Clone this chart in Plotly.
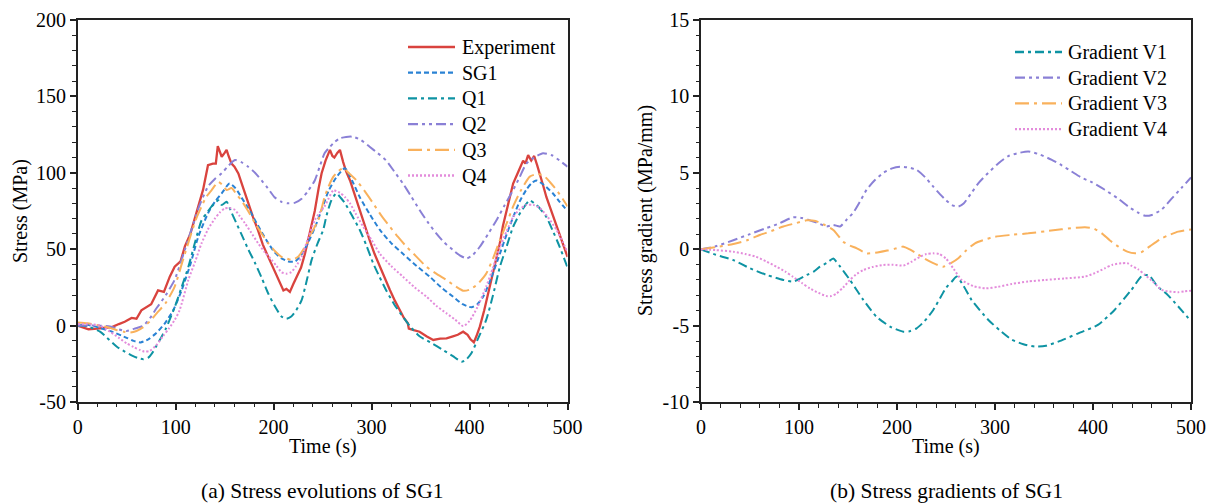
import plotly.graph_objects as go

# ---------------- (a) Stress evolutions of SG1 ----------------
exp_t = [0, 5, 11, 20, 30, 35, 42, 48, 55, 60, 65, 70, 75, 82, 88, 94, 99, 105, 109.5, 115, 120, 124, 128, 133, 138, 141, 143, 145, 147, 150, 152, 154, 157, 160, 164, 169, 174, 179, 184, 189, 194.5, 200, 204.7, 208, 210, 213, 216.6, 220, 223.5, 228, 232, 235, 238.8, 242, 246, 249, 253, 257.5, 260, 262, 265, 267.7, 271, 274, 278, 283, 288, 293, 298, 303, 308.5, 313, 318.7, 324, 329, 333, 337, 338, 343, 349, 356, 363, 370, 376.5, 383, 388, 393.5, 398, 401, 404.4, 407, 410.5, 415, 420.7, 426, 431, 434, 437.8, 441, 444.5, 450, 454.7, 457, 459.8, 463, 466, 469, 471.7, 475, 478.5, 484, 488.8, 494, 500]
exp_v = [0, -1, -2.4, -2, -1.5, -1, 1, 2.5, 5, 4.5, 10, 12, 14, 23, 22, 32, 38.5, 42, 52, 60, 71, 80, 89, 105, 106, 106, 117.5, 114, 110.5, 113, 115, 111, 106, 104, 99.6, 90, 80, 71, 62.5, 53, 45, 37, 30, 25, 23, 24, 22, 27, 32, 38, 47, 55, 64.7, 75, 90, 99.7, 108, 115, 111, 110, 113, 115, 107, 101, 95, 85, 75.7, 66, 56, 47, 38.5, 31, 23.3, 16, 10, 5, 1.5, -2, -3, -4, -7, -9.4, -8.5, -8.3, -7, -6, -4, -6, -9, -11, -7, -0.7, 10, 25.5, 40, 54, 65, 75.7, 84, 93, 101, 108, 106, 111.6, 108, 111, 105, 99.6, 92, 84, 74, 64.7, 55, 45]

sg1_t = [0, 10, 22.8, 35, 50, 57, 64, 72, 80, 89, 97.5, 106, 115, 123, 133, 140, 147, 155, 161, 167, 174, 181, 188, 194.5, 201, 208, 215, 222, 228, 235, 242, 249, 256, 264, 272.8, 280, 288, 298, 308.5, 320, 332, 346, 359.5, 371, 383, 393, 402, 408, 414, 422, 431, 438, 444.5, 451, 458, 463, 468, 476, 485, 492, 500]
sg1_v = [0, 0.5, -1.5, -4, -8, -10, -11, -9, -5, 1.5, 10, 23, 40, 58, 73.5, 81, 86.6, 93, 90, 84, 77, 69, 61, 54, 48, 44, 42, 42, 46, 54, 64, 75.7, 88, 97, 103, 95, 84, 73, 62.6, 54, 47, 39, 32, 25, 19, 14, 12, 14, 19, 31, 47, 60, 71, 81, 89, 93, 95, 92, 86.6, 81, 75]

q1_t = [0, 10, 22.8, 30, 40, 48, 56.6, 63, 67, 72, 76, 80.6, 90, 99, 106, 113, 120, 126.5, 131, 136.7, 140, 143.5, 147, 152, 157, 162, 167, 174, 181, 188, 194.5, 201, 208, 213, 218, 223, 228.6, 234, 238.8, 245, 250.6, 254, 259, 264, 268, 273, 280, 288, 295, 301.6, 308, 315, 323, 332, 340, 349, 360, 373, 383, 392, 397, 402, 409, 417, 424, 431, 438, 444.5, 452, 461.5, 466, 470, 478.5, 485, 492, 500]
q1_v = [0, -0.5, -4, -8, -13.8, -17, -20, -21.5, -22, -21, -18, -13, -2, 12, 25, 38.5, 55, 69, 73, 78, 80, 82, 79, 81, 74, 67, 60, 50, 41, 31, 21, 13, 6, 4.5, 6, 10, 16.7, 30, 43, 54, 62.6, 72, 82, 86.6, 84, 80, 72, 62.6, 52, 40.8, 32, 23, 14, 5.8, -1, -7, -11, -16, -20, -23.6, -22, -18, -8, 3.7, 20, 38.5, 52, 64.7, 74, 82, 80, 78, 71, 62, 51.6, 38]

q2_t = [0, 15, 33, 42, 50, 58, 67, 74, 80.6, 90, 99, 107, 116, 124, 133, 140, 147, 153, 160.5, 167, 174, 181, 187.7, 194, 201, 208, 215, 222, 228.6, 235, 242, 247, 252, 257.5, 262, 267.7, 274, 281, 289, 298, 306, 315, 323, 332, 340, 349, 357, 366, 374, 383, 390, 397, 403, 410.5, 419, 427.5, 436, 444.5, 451, 458, 466, 475, 484, 492, 500]
q2_v = [0, 0, -0.5, -2.5, -3.5, -2, 0, 5, 11.5, 20, 30, 45, 62.6, 78, 91, 96, 99.7, 104, 108.4, 107, 104, 100, 95, 90, 84, 81, 80, 80.5, 83, 88, 95, 104, 112.8, 117, 120, 122.6, 123.5, 123.6, 121.5, 117, 113, 108, 101, 93, 85, 75.7, 68, 60.4, 54.5, 49.5, 46, 44, 46, 51.6, 60, 69, 79, 88.7, 97, 106, 110, 112.8, 111.5, 108, 104]

q3_t = [0, 10, 22.8, 33, 40, 47, 53.5, 60, 67, 74, 80.6, 90, 99, 107, 116, 121, 126.5, 131, 136.7, 143.5, 148, 152, 157, 162, 167, 174, 181, 188, 194.5, 201, 208, 213, 218, 225, 232, 238, 245.6, 252, 256, 261, 266, 271, 278, 284.7, 293, 301.6, 310, 318.7, 327, 335.7, 346, 356, 366, 376.5, 385, 393.5, 400, 408, 417, 424, 431, 438, 444.5, 452, 461.5, 468, 475, 482, 488.8, 495, 500]
q3_v = [2, 1.5, 0, -1.5, -3, -4, -4.6, -3.5, -1, 3, 8, 15, 25.5, 42, 60.4, 70, 78, 84, 88.7, 94, 92, 88.7, 90, 86, 82, 75, 67, 60, 53.8, 49, 45, 44, 43, 45, 51.6, 60, 69, 84, 91, 97.5, 101, 103, 99, 95, 88, 80, 72, 64.7, 58, 51.6, 45, 38.5, 34, 29.8, 26, 22.8, 23.5, 27, 34, 44, 56, 67, 78, 88, 97.5, 99, 98.5, 94, 88.7, 83, 78]

q4_t = [0, 10, 22.8, 33, 42, 50, 57, 63.6, 68, 73.6, 80, 87, 93, 99, 104, 113, 120, 126.5, 133, 140, 145, 150, 155, 160.5, 165, 170.7, 177, 184, 191, 198, 203, 208, 213, 218, 223, 228.6, 235, 242, 247, 252, 256, 261, 264, 267.7, 273, 278, 284, 291.5, 300, 308.5, 320, 332, 344, 356, 366, 376.5, 385, 393.5, 400, 408, 417, 424, 431, 438, 444.5, 451, 458, 465, 471.7, 480, 488.8, 495, 500]
q4_v = [1, 1, 0, -4, -8, -11.6, -14, -16, -17, -16.5, -13, -7, -2, 3.7, 10, 30, 42, 54, 63, 70, 74, 76.7, 77, 75.7, 72, 67, 61, 54, 48, 43, 39, 35, 34, 35, 39, 45, 57, 69, 74, 78, 83, 88.7, 88, 87, 84, 80, 73, 64.7, 56, 47, 39, 32, 25, 19, 13, 8, 4, -0.3, 3, 12, 25.5, 38, 51.6, 62, 71, 76, 79, 79, 77, 71, 62.6, 55, 48]

# ---------------- (b) Stress gradients of SG1 ----------------
v1_t = [0, 15, 33, 50, 67, 84, 94, 100, 108, 115, 121.4, 128, 135, 138, 142, 152, 165.6, 179, 193, 206.5, 213, 220, 228, 237, 250.3, 256, 261, 268, 276, 293, 305, 317, 329, 340.8, 352, 364.6, 385, 405, 422, 439, 451, 458, 466, 475, 483.7, 492, 500]
v1_v = [0, -0.35, -0.7, -1.24, -1.67, -2.0, -2.1, -1.95, -1.67, -1.45, -1.13, -0.9, -0.6, -0.8, -1.13, -2.0, -3.3, -4.4, -5.05, -5.38, -5.35, -5.16, -4.7, -3.96, -2.5, -2.1, -1.78, -2.4, -3.3, -4.6, -5.3, -5.9, -6.2, -6.36, -6.3, -6.03, -5.49, -4.94, -3.96, -2.66, -1.67, -1.75, -2.44, -2.9, -3.5, -4.1, -4.7]

v2_t = [0, 15, 33, 50, 67, 80, 94, 103, 111, 120, 128, 135, 142, 148, 155.4, 162, 169, 177, 186, 195, 203, 212, 220, 229, 237, 244, 250.3, 256, 262.6, 268, 276, 284, 293, 303, 313.6, 324, 334, 346, 358, 368, 378, 388, 398.7, 412, 426, 436, 446, 453, 460, 470, 480, 490, 500]
v2_v = [0, 0.2, 0.6, 1.0, 1.4, 1.7, 2.1, 2.05, 1.9, 1.7, 1.5, 1.6, 1.5, 1.9, 2.4, 3.1, 3.9, 4.5, 5.0, 5.3, 5.4, 5.35, 5.2, 4.7, 4.1, 3.6, 3.2, 2.9, 2.8, 3.0, 3.7, 4.4, 5.0, 5.6, 6.1, 6.3, 6.4, 6.2, 5.85, 5.5, 5.1, 4.7, 4.4, 3.9, 3.3, 2.8, 2.4, 2.2, 2.25, 2.6, 3.3, 4.0, 4.7]

v3_t = [0, 15, 33, 47, 60, 72, 84, 96, 107.8, 117, 126, 135, 140, 145, 152, 159, 169, 180, 190, 198, 206.5, 213, 220, 228, 237, 247, 255, 262.6, 270, 279.6, 290, 300, 317, 334, 351, 368, 380, 391.8, 400, 409, 417, 426, 435, 443, 449, 458, 470, 478, 487, 500]
v3_v = [0, 0.15, 0.35, 0.6, 0.94, 1.2, 1.5, 1.7, 1.9, 1.85, 1.6, 1.27, 0.9, 0.5, 0.25, 0.07, -0.26, -0.2, -0.08, 0.05, 0.18, 0.0, -0.26, -0.6, -0.9, -1.13, -0.9, -0.58, -0.1, 0.4, 0.65, 0.83, 0.95, 1.05, 1.18, 1.31, 1.4, 1.45, 1.38, 1.05, 0.6, 0.18, -0.15, -0.26, -0.2, 0.2, 0.72, 0.95, 1.16, 1.3]

v4_t = [0, 15, 33, 45, 56, 67, 77, 86, 94, 103, 111, 120, 128, 133, 138, 145, 152, 158, 165.6, 175, 186, 196, 206.5, 215, 223.5, 230, 237, 243, 250, 258, 266, 278, 290, 303, 317, 334, 351, 371, 391.8, 402, 412, 420, 429, 435, 439, 446, 453, 461, 470, 478, 487, 493, 500]
v4_v = [0, -0.05, -0.15, -0.3, -0.48, -0.8, -1.13, -1.45, -1.8, -2.2, -2.55, -2.85, -3.05, -3.05, -2.9, -2.5, -2.0, -1.65, -1.35, -1.15, -1.02, -1.0, -1.06, -0.8, -0.48, -0.3, -0.26, -0.3, -0.6, -1.3, -2.0, -2.4, -2.55, -2.45, -2.26, -2.1, -2.0, -1.9, -1.78, -1.55, -1.24, -1.0, -0.91, -0.9, -1.06, -1.3, -1.67, -2.1, -2.65, -2.75, -2.8, -2.75, -2.7]

x_ticks = [0, 100, 200, 300, 400, 500]
x_ticktext = ["0", "100", "200", "300", "400", "500"]
y1_ticks = [-50, 0, 50, 100, 150, 200]
y1_ticktext = ["-50", "0", "50", "100", "150", "200"]
y2_ticks = [-10, -5, 0, 5, 10, 15]
y2_ticktext = ["-10", "-5", "0", "5", "10", "15"]

C_EXP = "#d9433e"
C_SG1 = "#2a82d4"
C_Q1 = "#0e93a3"
C_Q2 = "#8a80d6"
C_Q3 = "#f9b15c"
C_Q4 = "#e38cdb"

D_SG1 = "5px,3px"
D_Q1 = "9px,4px,3px,4px"
D_Q2 = "10px,4px,3px,4px,3px,4px"
D_Q3 = "14px,5px,3px,5px"
D_Q4 = "2px,2px"

FONT = "Liberation Serif"
W, H = 1210, 504


def px_x(p):
    return p / W


def px_y(p):
    return 1 - p / H


fig = go.Figure()


def add(t, v, name, color, dash, xa, ya, width=2.0, shape="linear"):
    fig.add_trace(go.Scatter(
        x=t, y=v, name=name, mode="lines", xaxis=xa, yaxis=ya, showlegend=False,
        line=dict(color=color, width=width, dash=dash, shape=shape,
                  smoothing=0.6 if shape == "spline" else None),
    ))


left = [
    (exp_t, exp_v, "Experiment", C_EXP, "solid", 2.3, "linear"),
    (sg1_t, sg1_v, "SG1", C_SG1, D_SG1, 2.0, "spline"),
    (q1_t, q1_v, "Q1", C_Q1, D_Q1, 2.0, "spline"),
    (q2_t, q2_v, "Q2", C_Q2, D_Q2, 2.0, "spline"),
    (q3_t, q3_v, "Q3", C_Q3, D_Q3, 2.0, "spline"),
    (q4_t, q4_v, "Q4", C_Q4, D_Q4, 2.0, "spline"),
]
right = [
    (v1_t, v1_v, "Gradient V1", C_Q1, D_Q1, 2.0, "spline"),
    (v2_t, v2_v, "Gradient V2", C_Q2, D_Q2, 2.0, "spline"),
    (v3_t, v3_v, "Gradient V3", C_Q3, D_Q3, 2.0, "spline"),
    (v4_t, v4_v, "Gradient V4", C_Q4, D_Q4, 2.0, "spline"),
]
for t, v, n, c, d, w, s in left:
    add(t, v, n, c, d, "x", "y", w, s)
for t, v, n, c, d, w, s in right:
    add(t, v, n, c, d, "x2", "y2", w, s)

tickfont = dict(family=FONT, size=20, color="black")
common_axis = dict(
    showline=True, linecolor="#222", linewidth=1.6, mirror=True,
    ticks="outside", ticklen=6, tickwidth=1.5, tickcolor="#222",
    showgrid=False, zeroline=False, tickfont=tickfont, automargin=False,
)
minor_x = dict(dtick=20, ticklen=3.5, tickwidth=1.2, ticks="outside", tickcolor="#222")

fig.update_layout(
    width=W, height=H,
    margin=dict(l=0, r=0, t=0, b=0, autoexpand=False),
    paper_bgcolor="white", plot_bgcolor="white",
    font=dict(family=FONT, color="black"),
    showlegend=False,
    xaxis=dict(domain=[px_x(77.7), px_x(567.5)], range=[0, 500], tickvals=x_ticks, ticktext=x_ticktext,
               minor=minor_x, anchor="y", **common_axis),
    yaxis=dict(domain=[px_y(402), px_y(20)], range=[-50, 200], tickvals=y1_ticks, ticktext=y1_ticktext,
               minor=dict(dtick=10, ticklen=3.5, tickwidth=1.2, ticks="outside", tickcolor="#222"),
               anchor="x", **common_axis),
    xaxis2=dict(domain=[px_x(701), px_x(1191)], range=[0, 500], tickvals=x_ticks, ticktext=x_ticktext,
                minor=minor_x, anchor="y2", **common_axis),
    yaxis2=dict(domain=[px_y(402.3), px_y(20)], range=[-10, 15], tickvals=y2_ticks, ticktext=y2_ticktext,
                minor=dict(dtick=1, ticklen=3.5, tickwidth=1.2, ticks="outside", tickcolor="#222"),
                anchor="x2", **common_axis),
)


# legend keys (drawn in paper space, mirroring the reference legend boxes)
def legend_block(items, x0, x1, xtext, y_first, step):
    for i, (t, v, n, c, d, w, s) in enumerate(items):
        yy = px_y(y_first + i * step)
        fig.add_shape(type="line", xref="paper", yref="paper", x0=px_x(x0), x1=px_x(x1), y0=yy, y1=yy,
                      line=dict(color=c, width=w + 0.3, dash=d))
        fig.add_annotation(text=n, x=px_x(xtext), y=yy, xref="paper", yref="paper",
                           xanchor="left", yanchor="middle", showarrow=False,
                           font=dict(family=FONT, size=20, color="black"))


legend_block(left, 408, 455, 460, 47, 25.7)
legend_block(right, 1015, 1062, 1066, 52, 25.7)

annots = [
    dict(text="Time (s)", x=px_x(323), y=px_y(446)),
    dict(text="Time (s)", x=px_x(946), y=px_y(446)),
    dict(text="Stress (MPa)", x=px_x(20), y=px_y(211), textangle=-90),
    dict(text="Stress gradient (MPa/mm)", x=px_x(645), y=px_y(211), textangle=-90),
    dict(text="(a) Stress evolutions of SG1", x=px_x(322), y=px_y(491), size=21.5),
    dict(text="(b) Stress gradients of SG1", x=px_x(946), y=px_y(491), size=21.5),
]
for a in annots:
    fig.add_annotation(
        text=a["text"], x=a["x"], y=a["y"], xref="paper", yref="paper",
        xanchor="center", yanchor="middle", showarrow=False,
        textangle=a.get("textangle", 0),
        font=dict(family=FONT, size=a.get("size", 20), color="black"),
    )

fig.write_html("out.html")
